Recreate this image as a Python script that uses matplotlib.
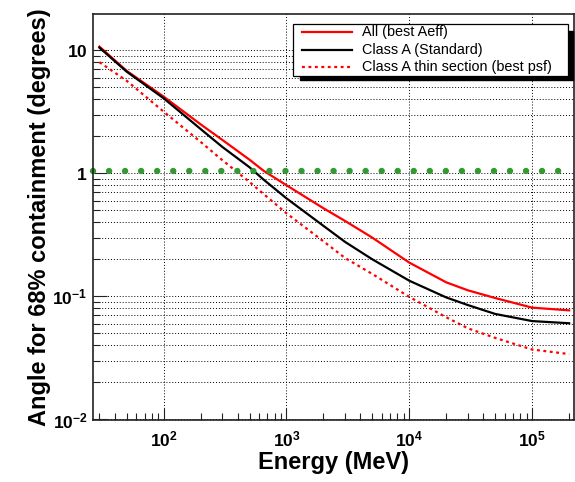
import math
import matplotlib
matplotlib.use("Agg")
import matplotlib.pyplot as plt
from matplotlib.ticker import LogLocator, FuncFormatter, NullFormatter
from matplotlib.patches import Rectangle
from matplotlib.lines import Line2D

plt.rcParams['font.family'] = ['Liberation Sans', 'DejaVu Sans']
plt.rcParams['mathtext.fontset'] = 'custom'
plt.rcParams['mathtext.rm'] = 'Liberation Sans:bold'
plt.rcParams['mathtext.bf'] = 'Liberation Sans:bold'
plt.rcParams['mathtext.default'] = 'bf'

# energies (MeV) and 68% containment angles (deg)
energy = [30, 50, 100, 200, 300, 500, 650, 1000, 2000, 3000, 5000,
          10000, 20000, 30000, 50000, 100000, 200000]
all_best_aeff = [10.7, 6.8, 4.2, 2.5, 1.87, 1.29, 1.05, 0.80, 0.52, 0.41, 0.30,
                 0.188, 0.130, 0.112, 0.097, 0.081, 0.077]
class_a = [10.5, 6.7, 4.07, 2.29, 1.64, 1.12, 0.89, 0.626, 0.374, 0.277, 0.20,
           0.134, 0.098, 0.085, 0.072, 0.063, 0.0605]
class_a_thin = [8.0, 5.65, 3.17, 1.80, 1.28, 0.85, 0.68, 0.473, 0.28, 0.205, 0.152,
                0.099, 0.0676, 0.055, 0.046, 0.037, 0.034]
ref_level = 1.05
labels = ["All (best Aeff)", "Class A (Standard)", "Class A thin section (best psf)"]

W, H = 575, 482
fig = plt.figure(figsize=(W / 100, H / 100), dpi=100)
ax = fig.add_axes([93 / W, 1 - 420 / H, 481 / W, 406 / H])

def fx(p):
    return p / W

def fy(p):
    return 1 - p / H

ax.set_xscale('log')
ax.set_yscale('log')
ax.set_xlim(26.6, 2.19e5)
ax.set_ylim(0.0099, 19.7)

ax.grid(True, which='major', axis='x', color='black', lw=0.7, ls=(0, (1, 2)))
ax.grid(True, which='both', axis='y', color='black', lw=0.7, ls=(0, (1, 2)))
ax.set_axisbelow(True)

ax.plot(energy, all_best_aeff, color='red', lw=1.6)
ax.plot(energy, class_a, color='black', lw=1.6)
ax.plot(energy, class_a_thin, color='red', lw=1.6, ls=(0, (1.3, 1.6)))

ax.axhline(ref_level, xmin=0, xmax=0.968, color='#339933', lw=4.6,
           ls=(0, (0.01, 2.5)), dash_capstyle='round', clip_on=False)

def xfmt(v, pos):
    e = int(round(math.log10(v)))
    return r'$10^{%d}$' % e

def yfmt(v, pos):
    e = int(round(math.log10(v)))
    if e == 1:
        return r'$10$'
    if e == 0:
        return r'$1$'
    return r'$10^{%d}$' % e

ax.xaxis.set_major_locator(LogLocator(base=10, numticks=20))
ax.xaxis.set_minor_locator(LogLocator(base=10, subs=range(2, 10), numticks=20))
ax.yaxis.set_major_locator(LogLocator(base=10, numticks=20))
ax.yaxis.set_minor_locator(LogLocator(base=10, subs=range(2, 10), numticks=20))
ax.xaxis.set_major_formatter(FuncFormatter(xfmt))
ax.yaxis.set_major_formatter(FuncFormatter(yfmt))
ax.xaxis.set_minor_formatter(NullFormatter())
ax.yaxis.set_minor_formatter(NullFormatter())

ax.tick_params(axis='both', which='both', direction='in', top=False, right=False,
               width=0.8, labelsize=12.5, color='#222222')
ax.tick_params(axis='x', which='major', length=8.6, pad=7)
ax.tick_params(axis='x', which='minor', length=5)
ax.tick_params(axis='y', which='major', length=10, pad=4)
ax.tick_params(axis='y', which='minor', length=5)
for s in ax.spines.values():
    s.set_linewidth(1.2)
    s.set_color('#222222')

ax.set_xlabel('Energy (MeV)', fontsize=17, fontweight='bold')
ax.set_ylabel('Angle for 68% containment (degrees)', fontsize=17, fontweight='bold')
ax.xaxis.set_label_coords(0.5, -0.076)
ax.yaxis.set_label_coords(-0.088, 0.5)

# ROOT style legend with hard shadow
fig.add_artist(Rectangle((fx(300), fy(80)), fx(273), 49 / H, transform=fig.transFigure,
                         facecolor='black', edgecolor='black', zorder=5))
fig.add_artist(Rectangle((fx(293), fy(76)), fx(275), 52 / H, transform=fig.transFigure,
                         facecolor='white', edgecolor='black', lw=0.9, zorder=6))
rows = [32.3, 50, 66.7]
styles = [dict(color='red', ls='-'), dict(color='black', ls='-'),
          dict(color='red', ls=(0, (1.3, 1.6)))]
for r, st, lab in zip(rows, styles, labels):
    fig.add_artist(Line2D([fx(302), fx(352)], [fy(r), fy(r)], transform=fig.transFigure,
                          lw=1.6, zorder=7, **st))
    fig.text(fx(362), fy(r), lab, fontsize=10.4, va='center', ha='left', zorder=7)

fig.savefig('out.png', dpi=100)
